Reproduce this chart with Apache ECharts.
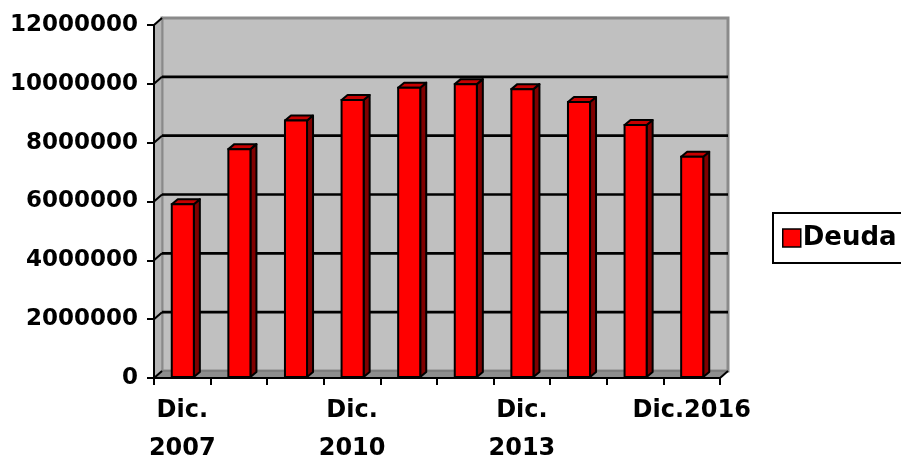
<!DOCTYPE html>
<html>
<head>
<meta charset="utf-8">
<script src="https://cdn.jsdelivr.net/npm/echarts@6/dist/echarts.min.js"></script>
<style>html,body{margin:0;padding:0;background:#fff;}#c{width:901px;height:456px;}</style>
</head>
<body>
<div id="c"></div>
<script>
const categories = ['Dic.\n2007','Dic.\n2008','Dic.\n2009','Dic.\n2010','Dic.\n2011','Dic.\n2012','Dic.\n2013','Dic.\n2014','Dic.\n2015','Dic.2016'];
const deuda = [5910000, 7780000, 8750000, 9450000, 9870000, 9990000, 9820000, 9380000, 8600000, 7520000];
const yTicks = [0, 2000000, 4000000, 6000000, 8000000, 10000000, 12000000];
const seriesName = 'Deuda';

const DX = 8, DY = -7;      // wall depth
const BDX = 6, BDY = -5;    // bar depth
const FONT = 'DejaVu Sans';

const chart = echarts.init(document.getElementById('c'), null, {renderer: 'canvas'});

function renderWall(params, api) {
  const cs = params.coordSys;
  const L = cs.x, R = cs.x + cs.width, T = cs.y, B = cs.y + cs.height;
  return {
    type: 'group',
    children: [
      {type: 'rect', shape: {x: L + DX, y: T + DY, width: cs.width, height: cs.height},
       style: {fill: '#c0c0c0', stroke: '#8a8a8a', lineWidth: 3}},
      {type: 'polygon', shape: {points: [[L, T], [L + DX, T + DY], [L + DX, B + DY], [L, B]]},
       style: {fill: '#b4b4b4', stroke: '#8a8a8a', lineWidth: 1.5}},
      {type: 'polygon', shape: {points: [[L, B], [L + DX, B + DY], [R + DX, B + DY], [R, B]]},
       style: {fill: '#8e8e8e', stroke: '#707070', lineWidth: 1}},
      {type: 'line', shape: {x1: R, y1: B, x2: R + DX, y2: B + DY}, style: {stroke: '#000', lineWidth: 2}}
    ]
  };
}

function renderGrid(params, api) {
  const cs = params.coordSys;
  const L = cs.x, R = cs.x + cs.width;
  const v = api.value(1);
  const y = api.coord([0, v])[1];
  const children = [
    {type: 'line', shape: {x1: L, y1: y, x2: L + DX, y2: y + DY}, style: {stroke: '#000', lineWidth: 2}}
  ];
  if (v > 0 && v < 12000000) {
    children.push({type: 'line', shape: {x1: L + DX, y1: y + DY, x2: R + DX, y2: y + DY}, style: {stroke: '#000', lineWidth: 2.6}});
  }
  return {type: 'group', children: children};
}

function renderBar(params, api) {
  const i = api.value(0), v = api.value(1);
  const top = api.coord([i, v]);
  const base = api.coord([i, 0]);
  const band = api.size([1, 0])[0];
  const w = band * 0.39;
  const x0 = top[0] - w / 2 + 0.5, x1 = x0 + w;
  const ty = top[1], by = base[1] - 1;
  return {
    type: 'group',
    children: [
      {type: 'polygon', shape: {points: [[x1, ty], [x1 + BDX, ty + BDY], [x1 + BDX, by + BDY], [x1, by]]},
       style: {fill: '#800000', stroke: '#000', lineWidth: 2, lineJoin: 'round'}},
      {type: 'polygon', shape: {points: [[x0, ty], [x0 + BDX, ty + BDY], [x1 + BDX, ty + BDY], [x1, ty]]},
       style: {fill: '#c80000', stroke: '#000', lineWidth: 2, lineJoin: 'round'}},
      {type: 'rect', shape: {x: x0, y: ty, width: w, height: by - ty},
       style: {fill: '#ff0000', stroke: '#000', lineWidth: 2}}
    ]
  };
}

const option = {
  backgroundColor: '#ffffff',
  animation: false,
  grid: {left: 154, top: 25, width: 566, height: 353, containLabel: false, outerBoundsMode: 'none'},
  legend: {
    left: 773, top: 213,
    orient: 'vertical',
    padding: [12, 30, 12, 9],
    borderColor: '#000', borderWidth: 2,
    itemWidth: 18, itemHeight: 18, itemGap: 4,
    textStyle: {fontFamily: FONT, fontWeight: 'bold', fontSize: 26, color: '#000', padding: [0, 0, 0, -3]},
    data: [{name: seriesName, icon: 'rect', itemStyle: {color: '#ff0000', borderColor: '#000', borderWidth: 1.5}}]
  },
  xAxis: {
    type: 'category',
    data: categories,
    boundaryGap: true,
    axisLine: {show: true, lineStyle: {color: '#000', width: 2}},
    axisTick: {show: true, length: 7, alignWithLabel: false, interval: 0, lineStyle: {color: '#000', width: 2}},
    axisLabel: {interval: 2, margin: 14, fontFamily: FONT, fontWeight: 'bold', fontSize: 24, lineHeight: 38, color: '#000'},
    splitLine: {show: false}
  },
  yAxis: {
    type: 'value',
    min: 0, max: 12000000, interval: 2000000,
    axisLine: {show: true, lineStyle: {color: '#000', width: 2}},
    axisTick: {show: true, length: 7, lineStyle: {color: '#000', width: 2}},
    axisLabel: {margin: 16, fontFamily: FONT, fontWeight: 'bold', fontSize: 23, color: '#000',
                formatter: function (v) { return String(v); }},
    splitLine: {show: false}
  },
  series: [
    {type: 'custom', name: 'wall', silent: true, z: 0, renderItem: renderWall, data: [[0, 0]], encode: {x: 0, y: 1}},
    {type: 'custom', name: 'grid', silent: true, z: 1, renderItem: renderGrid, data: yTicks.map(v => [0, v]), encode: {x: 0, y: 1}},
    {type: 'custom', name: seriesName, z: 3, itemStyle: {color: '#ff0000'}, renderItem: renderBar,
     data: deuda.map((v, i) => [i, v]), encode: {x: 0, y: 1}}
  ]
};
chart.setOption(option);
</script>
</body>
</html>
